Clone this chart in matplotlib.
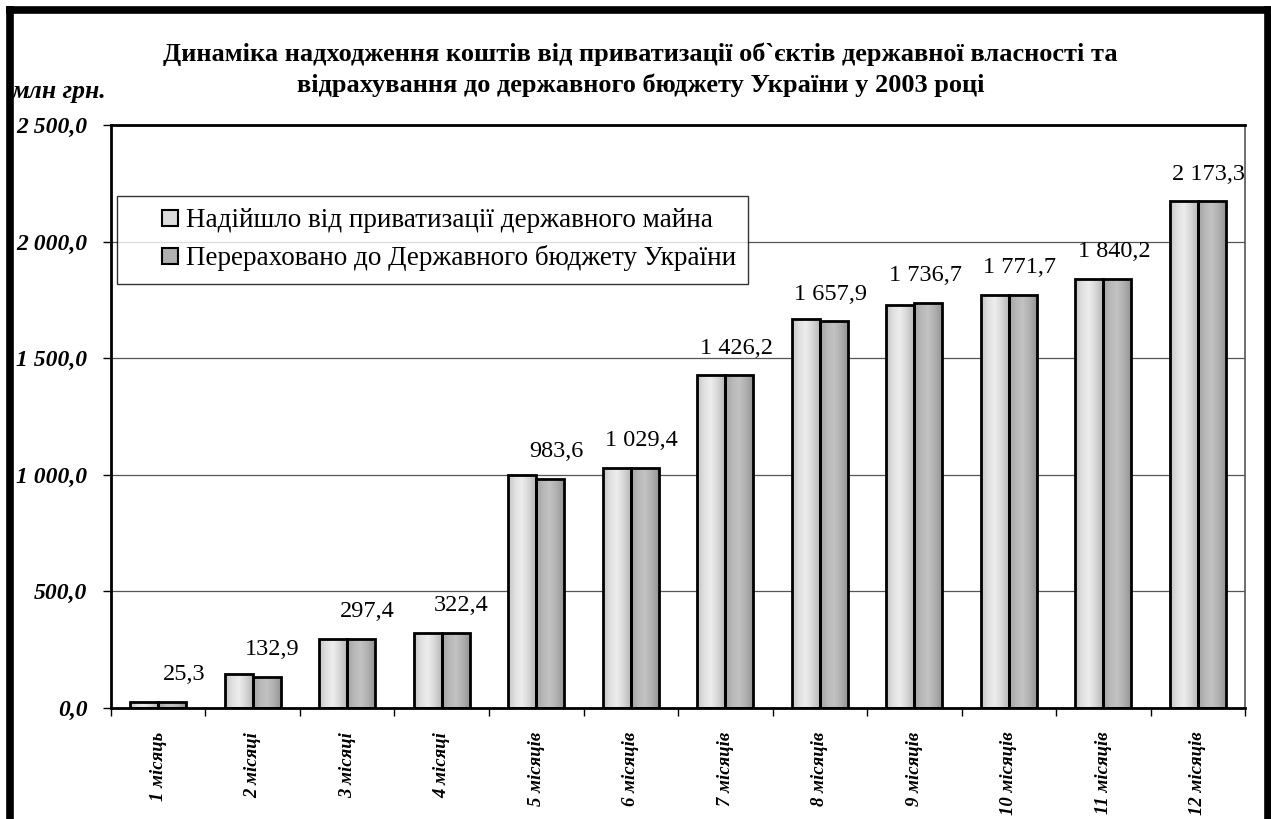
import matplotlib
matplotlib.use("Agg")
import matplotlib.pyplot as plt
from matplotlib.colors import LinearSegmentedColormap
from matplotlib.lines import Line2D
from matplotlib.patches import Rectangle
from matplotlib.legend_handler import HandlerPatch
from matplotlib.container import BarContainer
import numpy as np

months = ["1 місяць", "2 місяці", "3 місяці", "4 місяці", "5 місяців", "6 місяців",
          "7 місяців", "8 місяців", "9 місяців", "10 місяців", "11 місяців", "12 місяців"]
received = [26.0, 146.0, 298.0, 323.0, 1000.0, 1029.4, 1426.2, 1668.0, 1730.0, 1771.7, 1840.2, 2173.3]
transferred = [25.3, 132.9, 297.4, 322.4, 983.6, 1029.4, 1426.2, 1657.9, 1736.7, 1771.7, 1840.2, 2173.3]
value_labels = ["25,3", "132,9", "297,4", "322,4", "983,6", "1 029,4", "1 426,2",
                "1 657,9", "1 736,7", "1 771,7", "1 840,2", "2 173,3"]
series_names = ["Надійшло від приватизації державного майна",
                "Перераховано до Державного бюджету України"]
y_ticks = [0, 500, 1000, 1500, 2000, 2500]
y_tick_labels = ["0,0", "500,0", "1 000,0", "1 500,0", "2 000,0", "2 500,0"]

title = ("Динаміка надходження коштів від приватизації об`єктів державної власності та\n"
         "відрахування до державного бюджету України у 2003 році")

plt.rcParams['font.family'] = ['Liberation Serif', 'DejaVu Serif']

fig = plt.figure(figsize=(12.71, 8.19), dpi=100)
ax = fig.add_axes([0.0873, 0.1355, 0.8923, 0.7119])

# cylinder-like gradients
light = LinearSegmentedColormap.from_list(
    "light", ["#c4c4c4", "#e0e0e0", "#ededed", "#d6d6d6", "#b8b8b8"])
dark = LinearSegmentedColormap.from_list(
    "dark", ["#a2a2a2", "#b8b8b8", "#c2c2c2", "#b0b0b0", "#949494"])

x = np.arange(len(months))
w = 0.295
bars1 = ax.bar(x - w / 2, received, w, facecolor="none", edgecolor="black",
               linewidth=2, zorder=3, label=series_names[0])
bars2 = ax.bar(x + w / 2, transferred, w, facecolor="none", edgecolor="black",
               linewidth=2, zorder=3, label=series_names[1])

grad = np.linspace(0, 1, 64).reshape(1, -1)
for bars, cmap in [(bars1, light), (bars2, dark)]:
    for p in bars:
        x0, y0 = p.get_x(), p.get_y()
        im = ax.imshow(grad, cmap=cmap, aspect="auto", interpolation="bilinear",
                       extent=(x0, x0 + p.get_width(), y0, y0 + p.get_height()),
                       zorder=2)
        im.set_clip_path(p)

# labels sit right-aligned at the category edge
for i, v in enumerate(transferred):
    ax.annotate(value_labels[i], (x[i] + 0.5, v), xytext=(0, 12),
                textcoords="offset points", ha="right", va="bottom",
                fontsize=17.5)

ax.set_xlim(-0.5, len(months) - 0.5)
ax.set_ylim(0, 2500)
ax.set_yticks(y_ticks)
ax.set_yticklabels(y_tick_labels, fontsize=17, fontweight="bold", style="italic")
ax.tick_params(axis="y", direction="out", length=6, width=1, pad=11)

ax.set_xticks(np.arange(-0.5, len(months), 1.0))
ax.set_xticklabels([])
ax.tick_params(axis="x", which="major", direction="out", length=6, width=1)
ax.set_xticks(x, minor=True)
ax.set_xticklabels(months, minor=True, rotation=90, fontsize=13.5,
                   fontweight="bold", style="italic")
ax.tick_params(axis="x", which="minor", length=0, pad=17)

ax.yaxis.grid(True, color="#555555", linewidth=0.9)
ax.set_axisbelow(True)
for s in ["left", "bottom", "top"]:
    ax.spines[s].set_linewidth(2)
ax.spines["right"].set_linewidth(1.2)
ax.spines["right"].set_color("#555555")


def square_handle(legend, orig_handle, xdescent, ydescent, width, height, fontsize):
    s = 11.5
    return Rectangle((width - s - xdescent, -ydescent + (height - s) / 2), s, s)


leg = ax.legend(loc="upper left", bbox_to_anchor=(0.005, 0.878), fontsize=19.5,
                frameon=True, fancybox=False, edgecolor="black",
                handlelength=1.8, handleheight=0.7, handletextpad=0.3,
                labelspacing=0.45, borderpad=0.45, borderaxespad=0,
                handler_map={BarContainer: HandlerPatch(
                    patch_func=square_handle,
                    update_func=lambda h, o: h.update_from(o[0]))})
leg.get_frame().set_linewidth(1)
for h, c in zip(leg.legend_handles, ["#dcdcdc", "#b0b0b0"]):
    h.set_facecolor(c)
    h.set_edgecolor("black")
    h.set_linewidth(1.5)

fig.text(0.504, 0.9145, title, ha="center", va="center", fontsize=19,
         fontweight="bold", linespacing=1.42)
fig.text(0.009, 0.888, "млн грн.", ha="left", va="center", fontsize=18.5,
         fontweight="bold", style="italic")

# thick outer frame (bottom edge is cut off in the original)
for xs, ys in [([0.0079, 0.0079], [0, 0.988]), ([0.0079, 0.9975], [0.988, 0.988]),
               ([0.9975, 0.9975], [0, 0.988])]:
    fig.add_artist(Line2D(xs, ys, color="black", linewidth=5.5,
                          solid_capstyle="projecting", transform=fig.transFigure))

fig.savefig("out.png", dpi=100)
